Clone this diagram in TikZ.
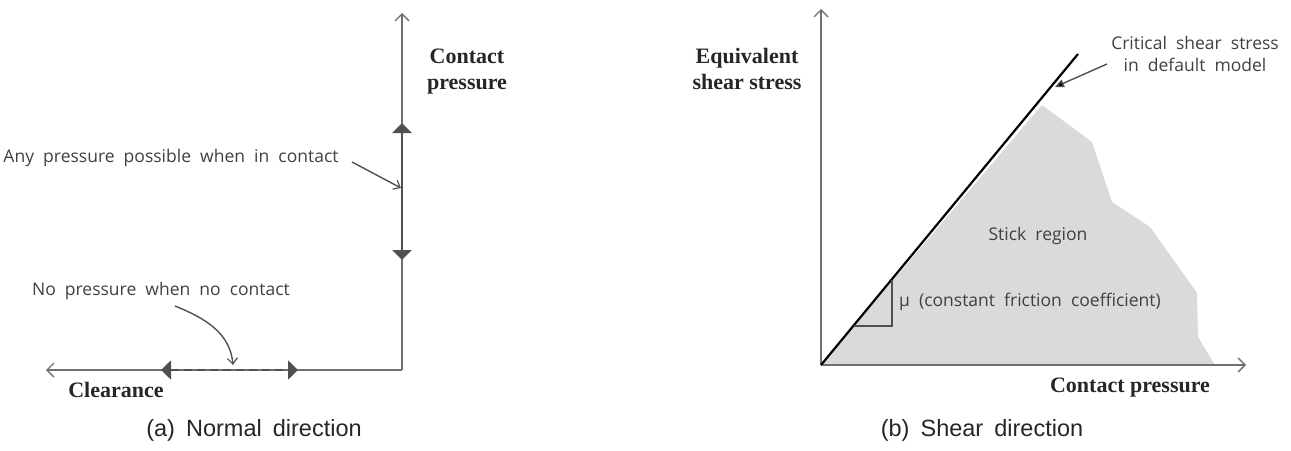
\documentclass[tikz,border=0pt]{standalone}
\usepackage{fontspec}
\setmainfont{Liberation Serif}
\newfontfamily\labfont[WordSpace=2]{Open Sans}
\newfontfamily\captfont[WordSpace=1.7]{Liberation Sans}
\usetikzlibrary{arrows.meta}
\definecolor{axisgrey}{HTML}{707070}
\definecolor{darkgrey}{HTML}{505050}
\definecolor{textgrey}{HTML}{404040}
\definecolor{regiongrey}{HTML}{DADADA}
\tikzset{
  axisline/.style={draw=axisgrey, line width=1.7pt, -{Straight Barb[length=7pt,width=14pt,line width=1.4pt]}},
  rangeline/.style={draw=darkgrey, line width=2.8pt, {Triangle[length=10pt,width=19pt]}-{Triangle[length=10pt,width=19pt]}},
  dashrange/.style={draw=darkgrey, line width=1.8pt, dash pattern=on 8pt off 5pt, {Triangle[length=10pt,width=19pt]}-{Triangle[length=10pt,width=19pt]}},
  pointer/.style={draw=darkgrey, line width=1.4pt, -{Straight Barb[length=6pt,width=10pt,line width=1.2pt]}},
  boldlabel/.style={font=\fontsize{22}{26}\selectfont\bfseries, text=black!85, inner sep=0pt, align=center},
  greylabel/.style={font=\labfont\fontsize{17.5}{22}\selectfont, text=textgrey, inner sep=0pt, align=center},
  captlabel/.style={font=\captfont\fontsize{23.5}{28}\selectfont, text=black!85, inner sep=0pt},
}
\begin{document}
\begin{tikzpicture}[x=1pt,y=-1pt]
\useasboundingbox (0,0) rectangle (1291,450);
% ---------- (a) Normal direction ----------
\coordinate (O1) at (402,370);
\coordinate (Y1) at (402,13);
\coordinate (X1) at (46,370);
\coordinate (R1t) at (402,123);
\coordinate (R1b) at (402,260);
\coordinate (D1l) at (161,370);
\coordinate (D1r) at (298,370);
\draw[axisline] (O1) -- (Y1);
\draw[axisline] (O1) -- (X1);
\draw[rangeline] (R1t) -- (R1b);
\draw[dashrange] (D1l) -- (D1r);
\node[boldlabel] (cp1) at (467,72) {Contact\\pressure};
\node[boldlabel] (clr) at (116,390) {Clearance};
\node[greylabel] (any) at (171,158) {Any pressure possible when in contact};
\coordinate (anyS) at (352,162);
\coordinate (anyE) at (401,188);
\draw[pointer] (anyS) -- (anyE);
\node[greylabel] (nop) at (161,291) {No pressure when no contact};
\coordinate (nopS) at (175,306);
\coordinate (nopE) at (233,365);
\draw[pointer] (nopS) to[out=-22,in=95] (nopE);
\node[captlabel] (capa) at (254,430) {(a) Normal direction};
% ---------- (b) Shear direction ----------
\coordinate (O2) at (821,365);
\coordinate (Y2) at (821,9);
\coordinate (X2) at (1246,365);
\fill[regiongrey] (O2) -- (1042,105) -- (1092,142) -- (1112,202) -- (1150,227) -- (1197,293) -- (1198,337) -- (1213,362) -- (1215,365) -- cycle;
\draw[axisline] (O2) -- (Y2);
\draw[axisline] (O2) -- (X2);
\coordinate (L2) at (1078,54);
\draw[black, line width=2.2pt] (O2) -- (L2);
\coordinate (T1) at (854,326);
\coordinate (T2) at (892,326);
\coordinate (T3) at (892,280);
\draw[darkgrey, line width=1.2pt] (T1) -- (T2) -- (T3);
\node[boldlabel] (eqs) at (747,69) {Equivalent\\shear stress};
\node[boldlabel] (cp2) at (1130,388) {Contact pressure};
\node[greylabel] (crit) at (1195,54) {Critical shear stress\\in default model};
\coordinate (critS) at (1107,64);
\coordinate (critE) at (1055,87);
\draw[draw=darkgrey, line width=1.4pt, -{Triangle[length=9pt,width=8pt,fill=black]}] (critS) -- (critE);
\node[greylabel] (stick) at (1038,236) {Stick region};
\node[greylabel, anchor=west] (mu) at (899,302) {µ (constant friction coefficient)};
\node[captlabel] (capb) at (982,430) {(b) Shear direction};
\end{tikzpicture}
\end{document}
